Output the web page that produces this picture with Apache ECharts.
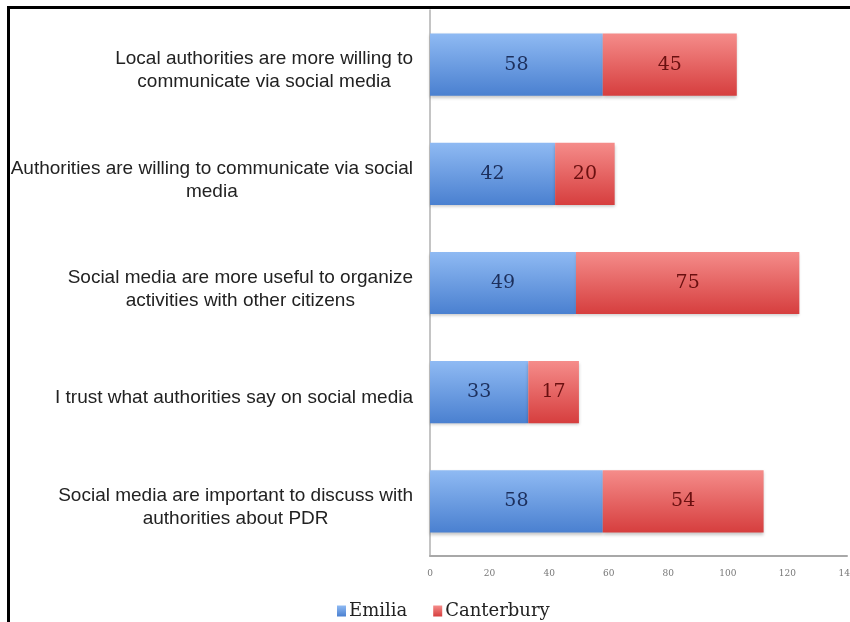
<!DOCTYPE html>
<html>
<head>
<meta charset="utf-8">
<script src="https://cdn.jsdelivr.net/npm/echarts@6/dist/echarts.min.js"></script>
<style>
  html, body { margin: 0; padding: 0; background: #ffffff; }
  #chart { width: 850px; height: 622px; }
</style>
</head>
<body>
<div id="chart"></div>
<script>
// Survey statements (top to bottom) and responses per region
const categories = [
  'Local authorities are more willing to\ncommunicate via social media',
  'Authorities are willing to communicate via social\nmedia',
  'Social media are more useful to organize\nactivities with other citizens',
  'I trust what authorities say on social media',
  'Social media are important to discuss with\nauthorities about PDR'
];
const emilia = [58, 42, 49, 33, 58];
const canterbury = [45, 20, 75, 17, 54];
const seriesNames = ['Emilia', 'Canterbury'];
const axisMin = 0, axisMax = 140, axisStep = 20;

const chart = echarts.init(document.getElementById('chart'), null, { renderer: 'canvas' });

function vGrad(top, bottom) {
  return new echarts.graphic.LinearGradient(0, 0, 0, 1, [
    { offset: 0, color: top },
    { offset: 1, color: bottom }
  ]);
}

const serif = '"DejaVu Serif", serif';
const sans = '"Liberation Sans", Arial, sans-serif';

function barSeries(name, data, top, bottom, labelColor) {
  return {
    name: name,
    type: 'bar',
    stack: 'total',
    data: data,
    barCategoryGap: '43%',
    itemStyle: {
      color: vGrad(top, bottom),
      shadowColor: 'rgba(0,0,0,0.22)',
      shadowBlur: 3,
      shadowOffsetY: 2
    },
    label: {
      show: true,
      position: 'inside',
      color: labelColor,
      fontFamily: serif,
      fontSize: 19
    },
    emphasis: { disabled: true }
  };
}

chart.setOption({
  backgroundColor: '#ffffff',
  animation: false,
  grid: { left: 430, right: 3, top: 10, bottom: 66, containLabel: false, outerBoundsMode: 'none' },
  legend: {
    data: seriesNames,
    icon: 'rect',
    left: 332,
    top: 597,
    itemWidth: 9,
    itemHeight: 11,
    itemGap: 26,
    textStyle: { fontFamily: serif, fontSize: 18, color: '#222222', padding: [0, 0, 0, -2] }
  },
  xAxis: {
    type: 'value',
    min: axisMin,
    max: axisMax,
    interval: axisStep,
    axisLine: { show: true, lineStyle: { color: '#a8a8a8', width: 2 } },
    axisTick: { show: false },
    splitLine: { show: false },
    axisLabel: { color: '#777777', fontFamily: serif, fontSize: 9, margin: 13 }
  },
  yAxis: {
    type: 'category',
    inverse: true,
    data: categories,
    axisLine: { show: true, lineStyle: { color: '#b0b0b0', width: 1.5 } },
    axisTick: { show: false },
    axisLabel: {
      margin: 17,
      padding: [12, 0, 0, 0],
      formatter: function (v) {
        return v.split('\n').map(function (l) { return '{c|' + l + '}'; }).join('\n');
      },
      rich: {
        c: { align: 'center', fontFamily: sans, fontSize: 19, lineHeight: 23, color: '#222222' }
      }
    }
  },
  series: [
    barSeries(seriesNames[0], emilia, '#8fbaf3', '#4a80d0', '#1c2f5c'),
    barSeries(seriesNames[1], canterbury, '#f58c8a', '#d63e3e', '#6a1010')
  ],
  graphic: [{
    type: 'polyline',
    shape: { points: [[8.5, 622], [8.5, 7.5], [850, 7.5]] },
    style: { stroke: '#000000', lineWidth: 3, fill: null },
    z: 100
  }]
});
</script>
</body>
</html>
